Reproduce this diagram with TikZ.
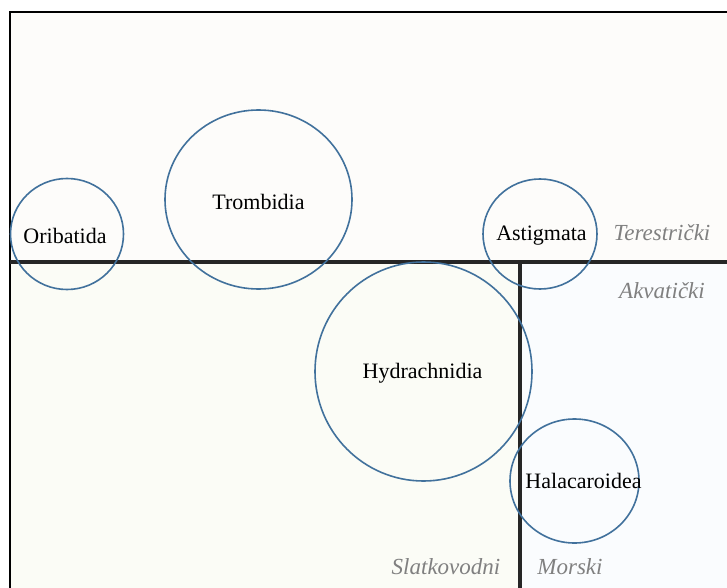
\documentclass[tikz,border=0pt]{standalone}
\usepackage{fontspec}
\setmainfont{Liberation Serif}
\usepackage{xcolor}
\usetikzlibrary{shapes.geometric}
\definecolor{krug}{HTML}{41719C}
\definecolor{kopno}{HTML}{FDFCFA}
\definecolor{slatka}{HTML}{FBFCF6}
\definecolor{more}{HTML}{FAFCFE}
\tikzset{
  grupa/.style={draw=krug, line width=1.6pt, ellipse, inner sep=0pt},
  ime/.style={font=\fontsize{22}{26}\selectfont, inner sep=0pt},
  sredina/.style={font=\fontsize{23}{27}\selectfont\itshape, text=black!50},
  granica/.style={line width=3.4pt, draw=black!85}
}
\begin{document}
\begin{tikzpicture}[x=1pt,y=-1pt]
  \useasboundingbox (0,0) rectangle (727,588);
  % pozadina
  \fill [kopno] (10,12) rectangle (727,262);
  \fill [slatka] (10,262) rectangle (520,588);
  \fill [more] (520,262) rectangle (727,588);
  \draw [line width=1.8pt] (10,588) -- (10,12) -- (727,12);
  % granice staniste
  \coordinate (hl) at (10,262);
  \coordinate (hd) at (727,262);
  \coordinate (vg) at (520,262);
  \coordinate (vd) at (520,588);
  \draw [granica] (hl) -- (hd);
  \draw [granica] (vg) -- (vd);
  % staniste
  \node [sredina] (ter) at (662,233) {Terestrički};
  \node [sredina] (akv) at (662,291) {Akvatički};
  \node [sredina] (slat) at (446,567) {Slatkovodni};
  \node [sredina] (mor) at (570,567) {Morski};
  % grupe
  \node [grupa, minimum width=113pt, minimum height=111pt] (orib) at (67,234) {};
  \node [grupa, minimum width=187pt, minimum height=179pt] (tromb) at (258.5,199.5) {};
  \node [grupa, minimum width=114pt, minimum height=110pt] (astig) at (540,234) {};
  \node [grupa, minimum width=217pt, minimum height=219pt] (hydr) at (423.5,371.5) {};
  \node [grupa, minimum width=129pt, minimum height=124pt] (halac) at (574.5,481) {};
  \node [ime] (oribT) at ([shift={(-2,2)}]orib) {Oribatida};
  \node [ime] (trombT) at ([shift={(0,2)}]tromb) {Trombidia};
  \node [ime] (astigT) at ([shift={(1.5,2)}]astig) {Astigmata};
  \node [ime] (hydrT) at ([shift={(-1,2)}]hydr) {Hydrachnidia};
  \node [ime] (halacT) at ([shift={(9,0)}]halac) {Halacaroidea};
\end{tikzpicture}
\end{document}
